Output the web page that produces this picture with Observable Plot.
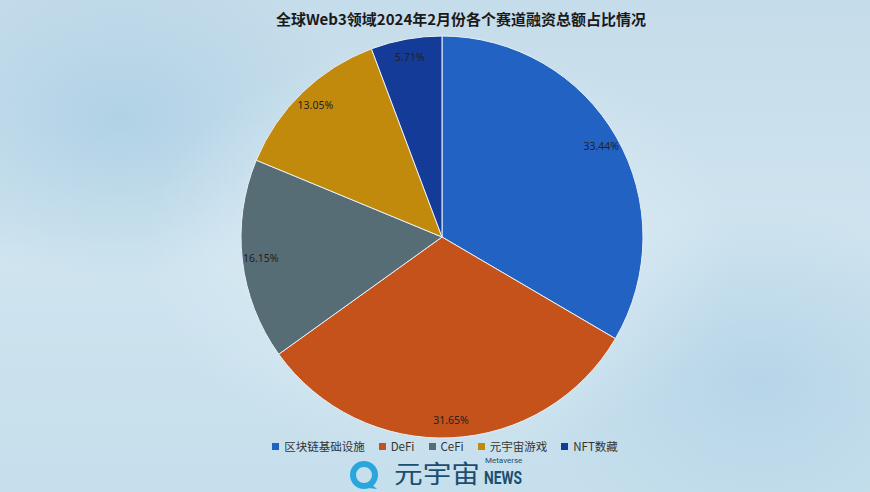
<!DOCTYPE html>
<html><head><meta charset="utf-8">
<script src="https://cdn.jsdelivr.net/npm/d3@7"></script>
<script src="https://cdn.jsdelivr.net/npm/@observablehq/plot@0.6"></script>
<style>
html,body{margin:0;padding:0;}
body{width:870px;height:492px;overflow:hidden;position:relative;font-family:"Noto Sans CJK SC","Noto Sans",sans-serif;
background:
 radial-gradient(ellipse 420px 300px at 440px 250px, rgba(225,240,248,0.9), rgba(225,240,248,0) 70%),
 radial-gradient(ellipse 300px 200px at 120px 120px, rgba(160,200,225,0.6), rgba(160,200,225,0) 80%),
 radial-gradient(ellipse 300px 220px at 760px 380px, rgba(170,205,228,0.6), rgba(170,205,228,0) 80%),
 linear-gradient(180deg,#c5dcea 0%,#cfe4ef 50%,#c6dfec 100%);}
#chart{position:absolute;left:0;top:0;}
#title{position:absolute;top:8px;left:0;width:922px;text-align:center;font-size:15px;font-weight:bold;color:#1a1a1a;}
#legend{position:absolute;top:439px;left:0;width:890px;display:flex;justify-content:center;gap:14px;font-size:11.5px;line-height:15px;color:#333;}
#legend span.item{display:flex;align-items:center;}
#legend i{display:inline-block;width:7px;height:7px;margin-right:5px;}
#logo{position:absolute;left:348px;top:454px;height:37px;width:200px;}
</style></head>
<body>
<div id="title">全球Web3领域2024年2月份各个赛道融资总额占比情况</div>
<div id="chart"></div>
<div id="legend"></div>
<div id="logo">
<svg width="200" height="37" style="position:absolute;left:0;top:0;overflow:visible">
 <circle cx="16" cy="21" r="11" fill="none" stroke="#2aa6dc" stroke-width="6"/>
 <path d="M21 28 L29 35 L20 34 Z" fill="#2aa6dc"/>
 <text x="46" y="29" font-size="25" fill="#1c4e70" font-family="Noto Sans CJK SC" textLength="86" lengthAdjust="spacingAndGlyphs">元宇宙</text>
 <text x="137" y="9" font-size="8" fill="#1c4e70" font-family="Roboto">Metaverse</text>
 <text x="136" y="30" font-size="18" font-weight="bold" fill="#1c4e70" font-family="Roboto" textLength="38" lengthAdjust="spacingAndGlyphs">NEWS</text>
</svg>
</div>
<script>
const categories = ["区块链基础设施","DeFi","CeFi","元宇宙游戏","NFT数藏"];
const shares = [33.44, 31.65, 16.15, 13.05, 5.71];
const colors = ["#2162c2","#c4521a","#566d76","#c28a0c","#143b98"];
const labels = ["33.44%","31.65%","16.15%","13.05%","5.71%"];

const total = d3.sum(shares);
let acc = 0;
const slices = categories.map((c,i)=>{
  const a0 = acc/total*2*Math.PI; acc += shares[i];
  const a1 = acc/total*2*Math.PI;
  const mid = (a0+a1)/2;
  return {category:c, value:shares[i], label:labels[i], a0, a1, lx:0.91*Math.sin(mid), ly:0.91*Math.cos(mid)};
});

const W=870,H=492,cx=442,cy=237,R=201;
function pieMark(index, scales, values, dimensions){
  const x0 = scales.x(0), y0 = scales.y(0);
  const r = scales.x(1)-scales.x(0);
  const arc = d3.arc().innerRadius(0).outerRadius(r);
  const g = d3.create("svg:g").attr("transform",`translate(${x0},${y0})`);
  g.selectAll("path").data(slices).join("path")
   .attr("d", d=>arc({startAngle:d.a0,endAngle:d.a1}))
   .attr("fill", d=>scales.color(d.category))
   .attr("stroke","#e8f0f5").attr("stroke-width",1);
  return g.node();
}

const plot = Plot.plot({
  width:W, height:H, margin:0,
  style:{background:"transparent", overflow:"visible"},
  x:{domain:[-cx/R,(W-cx)/R], axis:null},
  y:{domain:[-(H-cy)/R, cy/R], axis:null},
  color:{domain:categories, range:colors},
  marks:[
    pieMark,
    Plot.text(slices,{x:"lx",y:"ly",text:"label",fontSize:10.5,fill:"#222",fontFamily:"Noto Sans, sans-serif"})
  ]
});
document.getElementById("chart").appendChild(plot);

const leg = document.getElementById("legend");
categories.forEach((c,i)=>{
  const s=document.createElement("span");s.className="item";
  s.innerHTML=`<i style="background:${colors[i]}"></i>${c}`;
  leg.appendChild(s);
});
</script>
</body></html>
